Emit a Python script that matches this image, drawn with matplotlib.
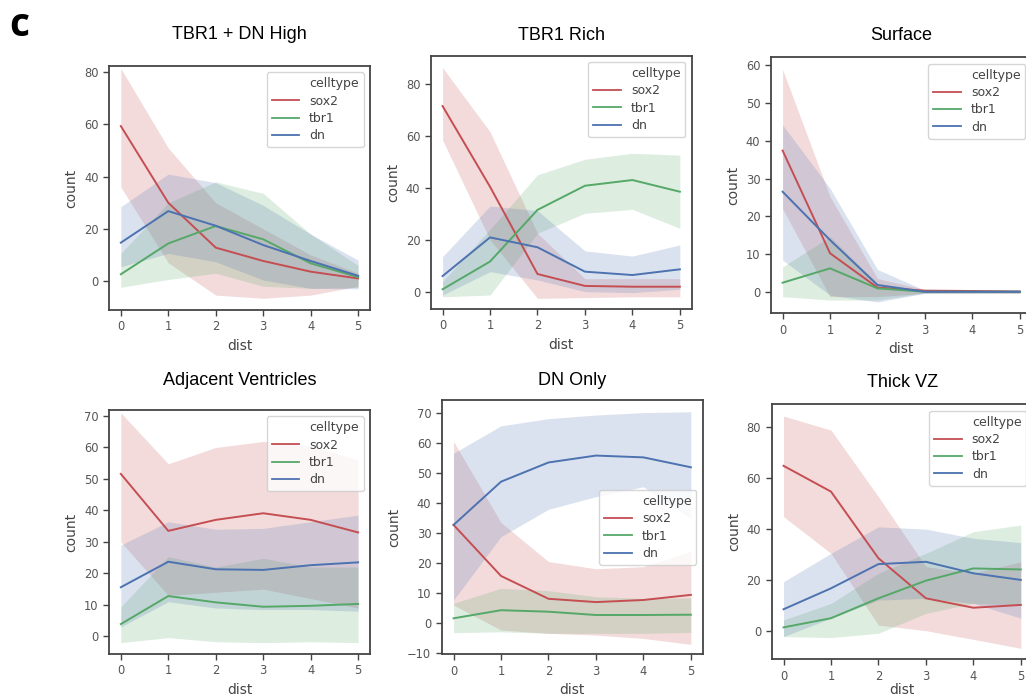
import matplotlib
matplotlib.use('Agg')
import matplotlib.pyplot as plt
from matplotlib.lines import Line2D

# x values and series names
dist = [0, 1, 2, 3, 4, 5]
celltypes = ['sox2', 'tbr1', 'dn']
titles = ['TBR1 + DN High', 'TBR1 Rich', 'Surface',
          'Adjacent Ventricles', 'DN Only', 'Thick VZ']

# each panel: rows are sox2, tbr1, dn
high_mean = [[59.4, 30.0, 12.8, 7.7, 3.6, 1.0],
             [2.6, 14.4, 21.1, 16.0, 6.8, 1.5],
             [14.7, 26.8, 21.2, 13.8, 7.7, 2.0]]
high_lo = [[36.0, 7.0, -5.4, -6.6, -5.4, -2.0],
           [-2.4, 0.6, 3.0, -2.0, -2.8, -2.5],
           [5.5, 10.6, 7.4, 0.4, -2.8, -3.0]]
high_hi = [[81.5, 51.0, 30.0, 20.0, 10.0, 3.0],
           [10.6, 30.0, 38.0, 33.6, 18.0, 6.0],
           [28.5, 41.0, 37.7, 29.0, 18.0, 8.0]]

rich_mean = [[71.5, 40.4, 6.8, 2.2, 1.9, 1.9],
             [0.9, 11.6, 31.5, 40.8, 43.0, 38.5],
             [6.0, 20.9, 17.1, 7.7, 6.4, 8.6]]
rich_lo = [[58.4, 20.0, -2.6, -2.3, -2.0, -2.0],
           [-2.0, -1.3, 22.5, 30.2, 31.7, 24.4],
           [-1.3, 7.7, 4.5, 0.0, -0.4, 0.9]]
rich_hi = [[86.3, 61.6, 22.5, 5.0, 5.0, 5.0],
           [3.9, 24.0, 45.0, 51.0, 53.3, 52.6],
           [13.5, 33.0, 31.2, 15.7, 13.7, 18.0]]

surf_mean = [[37.4, 10.2, 1.1, 0.3, 0.2, 0.0],
             [2.4, 6.2, 0.9, 0.0, 0.0, 0.0],
             [26.5, 13.7, 1.8, 0.0, 0.0, 0.0]]
surf_lo = [[22.0, -1.3, -1.3, -0.4, -0.4, -0.4],
           [-1.3, -2.2, -2.2, -0.3, -0.3, -0.3],
           [8.4, -0.9, -2.7, -0.4, -0.4, -0.4]]
surf_hi = [[58.9, 25.2, 3.5, 0.6, 0.6, 0.6],
           [6.6, 14.6, 2.2, 0.3, 0.3, 0.3],
           [44.2, 27.4, 5.9, 0.4, 0.6, 0.6]]

adj_mean = [[51.6, 33.5, 37.0, 39.1, 37.0, 33.0],
            [3.9, 12.8, 10.8, 9.4, 9.7, 10.3],
            [15.6, 23.7, 21.3, 21.1, 22.6, 23.5]]
adj_lo = [[30.0, 13.0, 14.0, 15.0, 12.0, 9.0],
          [-2.0, -0.4, -1.7, -2.0, -1.7, -2.0],
          [3.0, 11.0, 9.0, 8.5, 8.5, 8.0]]
adj_hi = [[71.0, 54.8, 60.0, 61.9, 60.5, 56.0],
          [9.4, 25.3, 22.0, 24.8, 22.0, 22.0],
          [29.0, 36.4, 34.0, 34.3, 36.4, 38.5]]

dnonly_mean = [[32.8, 15.8, 8.2, 7.1, 7.8, 9.5],
               [1.7, 4.4, 3.9, 2.8, 2.8, 2.9],
               [32.8, 47.2, 53.6, 55.9, 55.3, 52.0]]
dnonly_lo = [[6.1, -2.2, -3.3, -3.9, -5.0, -7.0],
             [-3.1, -2.8, -3.3, -3.3, -3.3, -3.0],
             [7.8, 28.9, 38.0, 42.2, 45.5, 35.0]]
dnonly_hi = [[60.6, 33.6, 20.6, 18.2, 18.9, 24.0],
             [6.7, 11.7, 10.9, 8.9, 8.3, 8.5],
             [56.7, 65.8, 68.2, 69.4, 70.2, 70.5]]

vz_mean = [[64.7, 54.6, 28.5, 12.8, 9.1, 10.2],
           [1.4, 5.0, 12.8, 19.7, 24.5, 24.1],
           [8.5, 16.7, 26.2, 27.1, 22.6, 20.0]]
vz_lo = [[44.8, 30.4, 2.3, 0.1, -3.3, -6.8],
         [-2.2, -2.6, -0.9, 6.9, 10.8, 10.2],
         [-2.2, 5.0, 12.1, 12.8, 10.8, 5.0]]
vz_hi = [[84.2, 78.7, 52.6, 25.2, 22.6, 27.1],
         [4.3, 10.8, 22.6, 30.4, 38.9, 41.5],
         [19.3, 30.4, 40.8, 39.9, 36.3, 34.6]]

means = [high_mean, rich_mean, surf_mean, adj_mean, dnonly_mean, vz_mean]
lows = [high_lo, rich_lo, surf_lo, adj_lo, dnonly_lo, vz_lo]
highs = [high_hi, rich_hi, surf_hi, adj_hi, dnonly_hi, vz_hi]

y_limits = [(-11.1, 82.4), (-6.7, 90.9), (-5.7, 62.1),
            (-5.6, 71.9), (-10.3, 74.3), (-11.1, 88.8)]
y_ticks = [range(0, 81, 20), range(0, 81, 20), range(0, 61, 10),
           range(0, 71, 10), range(-10, 71, 10), range(0, 81, 20)]

# layout (figure fractions) and title / label pads
positions = [[0.1062, 0.5565, 0.2544, 0.3490],
             [0.4198, 0.5579, 0.2544, 0.3624],
             [0.7512, 0.5518, 0.2544, 0.3662],
             [0.1062, 0.0644, 0.2544, 0.3491],
             [0.4305, 0.0639, 0.2544, 0.3634],
             [0.7521, 0.0568, 0.2544, 0.3648]]
title_pads = [19.4, 11.3, 12.5, 18.0, 11.0, 12.7]
xlabel_pads = [4, 4, 4, 4, 4, 0.5]
legend_locs = ['upper right'] * 4 + ['center right', 'upper right']
colors = ['#C44E52', '#55A868', '#4C72B0']

fig = plt.figure(figsize=(10.26, 6.99), dpi=100)

for i in range(6):
    ax = fig.add_axes(positions[i])
    for j in range(3):
        ax.fill_between(dist, lows[i][j], highs[i][j], color=colors[j],
                        alpha=0.2, linewidth=0)
        ax.plot(dist, means[i][j], color=colors[j], linewidth=1.4,
                label=celltypes[j])
    ax.set_xlim(-0.25, 5.25)
    ax.set_ylim(*y_limits[i])
    ax.set_xticks(dist)
    ax.set_yticks(list(y_ticks[i]))
    ax.set_title(titles[i], fontsize=13, family='Liberation Sans',
                 pad=title_pads[i])
    ax.set_xlabel('dist', fontsize=10, color='#444444',
                  labelpad=xlabel_pads[i])
    ax.set_ylabel('count', fontsize=10, color='#444444')
    ax.tick_params(labelsize=8.3, labelcolor='#555555', color='#444444',
                   length=4, width=1, direction='out')
    for sp in ax.spines.values():
        sp.set_color('#444444')
        sp.set_linewidth(1.3)

    handles = [Line2D([], [], color='none')]
    handles += [Line2D([], [], color=c, linewidth=1.3) for c in colors]
    leg = ax.legend(handles, ['celltype'] + celltypes, loc=legend_locs[i],
                    fontsize=9, handlelength=2.2, labelspacing=0.35,
                    frameon=True, fancybox=True)
    leg.get_frame().set_edgecolor('#cccccc')
    for t in leg.get_texts():
        t.set_color('#444444')

fig.text(0.009, 0.9485, 'c', fontsize=28, fontweight='bold',
         family='Open Sans', va='baseline', ha='left')

fig.savefig('out.png', dpi=100)
